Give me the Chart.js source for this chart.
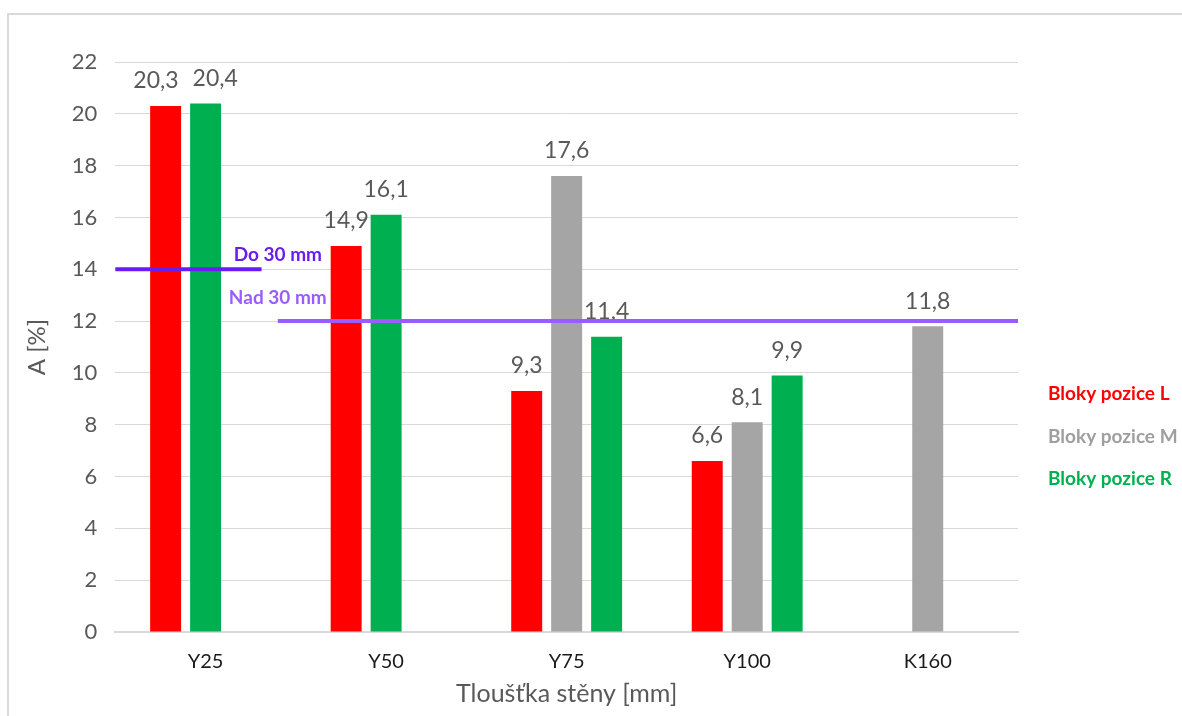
<!DOCTYPE html>
<html>
<head>
<meta charset="utf-8">
<script src="https://cdn.jsdelivr.net/npm/chart.js@4.4.0/dist/chart.umd.min.js"></script>
<style>
  body { margin: 0; background: #fff; }
  #wrap { width: 1182px; height: 716px; }
</style>
</head>
<body>
<div id="wrap"><canvas id="chart"></canvas></div>
<script>
// data
const categories = ['Y25', 'Y50', 'Y75', 'Y100', 'K160'];
const seriesL = [20.3, 14.9, 9.3, 6.6, null];   // Bloky pozice L
const seriesM = [null, null, 17.6, 8.1, 11.8];  // Bloky pozice M
const seriesR = [20.4, 16.1, 11.4, 9.9, null];  // Bloky pozice R
const seriesNames = ['Bloky pozice L', 'Bloky pozice M', 'Bloky pozice R'];
const yTicks = [0, 2, 4, 6, 8, 10, 12, 14, 16, 18, 20, 22];

// horizontal limit lines (value in %, extent in category units)
const limitLines = [
  { label: 'Do 30 mm', value: 14, from: -0.5, to: 0.31, color: '#6a1cf0', labelX: 0.40, labelY: 14.55 },
  { label: 'Nad 30 mm', value: 12, from: 0.40, to: 4.5, color: '#9a5cff', labelX: 0.40, labelY: 12.9 }
];

const RED = '#ff0000', GRAY = '#a5a5a5', GREEN = '#00b050';
const FONT = 'Lato, "Noto Sans", sans-serif';

// Excel put R into the middle slot when M is missing
const slotLeft = seriesL;
const slotMid = seriesM.map((v, i) => v !== null ? v : seriesR[i]);
const slotMidColor = seriesM.map(v => v !== null ? GRAY : GREEN);
const slotRight = seriesR.map((v, i) => seriesM[i] !== null ? v : null);

const fmt = v => String(v).replace('.', ',');

const framePlugin = {
  id: 'frame',
  beforeDraw(chart) {
    const c = chart.ctx;
    c.save();
    c.strokeStyle = '#d9d9d9';
    c.lineWidth = 2;
    c.strokeRect(8, 14, 1190, 720);
    c.restore();
  }
};

const extrasPlugin = {
  id: 'extras',
  afterDatasetsDraw(chart) {
    const c = chart.ctx;
    const x = chart.scales.x, y = chart.scales.y;
    c.save();
    // value labels, pushed apart when neighbours collide
    c.font = '23px ' + FONT;
    c.fillStyle = '#595959';
    c.textAlign = 'center';
    c.textBaseline = 'middle';
    categories.forEach((cat, i) => {
      const items = [];
      chart.data.datasets.forEach((ds, di) => {
        const v = ds.data[i];
        if (v === null) return;
        const bar = chart.getDatasetMeta(di).data[i];
        items.push({ text: fmt(v), x: bar.x, y: bar.y - 25, w: c.measureText(fmt(v)).width });
      });
      for (let k = 1; k < items.length; k++) {
        const a = items[k - 1], b = items[k];
        if (Math.abs(a.y - b.y) > 24) continue;
        const need = (a.w + b.w) / 2 + 14 - (b.x - a.x);
        if (need > 0) { a.x -= need / 2; b.x += need / 2; }
      }
      items.forEach(it => c.fillText(it.text, it.x, it.y));
    });
    // limit lines
    limitLines.forEach(l => {
      const py = y.getPixelForValue(l.value);
      c.strokeStyle = l.color;
      c.lineWidth = 4;
      c.beginPath();
      c.moveTo(x.getPixelForValue(l.from), py);
      c.lineTo(x.getPixelForValue(l.to), py);
      c.stroke();
      c.font = 'bold 19px ' + FONT;
      c.fillStyle = l.color;
      c.textBaseline = 'middle';
      c.fillText(l.label, x.getPixelForValue(l.labelX), y.getPixelForValue(l.labelY));
    });
    // legend
    const colors = [RED, '#9e9e9e', GREEN];
    c.font = 'bold 19px ' + FONT;
    c.textAlign = 'left';
    c.textBaseline = 'middle';
    seriesNames.forEach((name, i) => {
      c.fillStyle = colors[i];
      c.fillText(name, chart.chartArea.right + 30, 394 + i * 42.5);
    });
    c.restore();
  }
};

const barOpts = { categoryPercentage: 0.664, barPercentage: 0.775 };

new Chart(document.getElementById('chart'), {
  type: 'bar',
  data: {
    labels: categories,
    datasets: [
      { label: seriesNames[0], data: slotLeft, backgroundColor: RED, ...barOpts },
      { label: 'middle', data: slotMid, backgroundColor: slotMidColor, ...barOpts },
      { label: 'right', data: slotRight, backgroundColor: GREEN, ...barOpts }
    ]
  },
  options: {
    responsive: true,
    maintainAspectRatio: false,
    animation: false,
    layout: { padding: { left: 19, right: 164, top: 62, bottom: 7 } },
    plugins: { legend: { display: false }, tooltip: { enabled: false } },
    scales: {
      x: {
        grid: { display: false },
        border: { color: '#d9d9d9', width: 2 },
        ticks: { color: '#1a1a1a', font: { family: FONT, size: 20 }, padding: 10 },
        title: { display: true, text: 'Tloušťka stěny [mm]', color: '#595959', font: { family: FONT, size: 25 }, padding: { top: -5, bottom: 0 } }
      },
      y: {
        min: 0,
        max: 22,
        afterBuildTicks(axis) { axis.ticks = yTicks.map(v => ({ value: v })); },
        grid: { color: '#d9d9d9', drawTicks: true, tickLength: 8, tickColor: '#fff' },
        border: { display: false },
        ticks: { color: '#595959', font: { family: FONT, size: 22 }, padding: 10 },
        title: { display: true, text: 'A [%]', color: '#595959', font: { family: FONT, size: 24 }, padding: { bottom: 10 } }
      }
    }
  },
  plugins: [framePlugin, extrasPlugin]
});
</script>
</body>
</html>
